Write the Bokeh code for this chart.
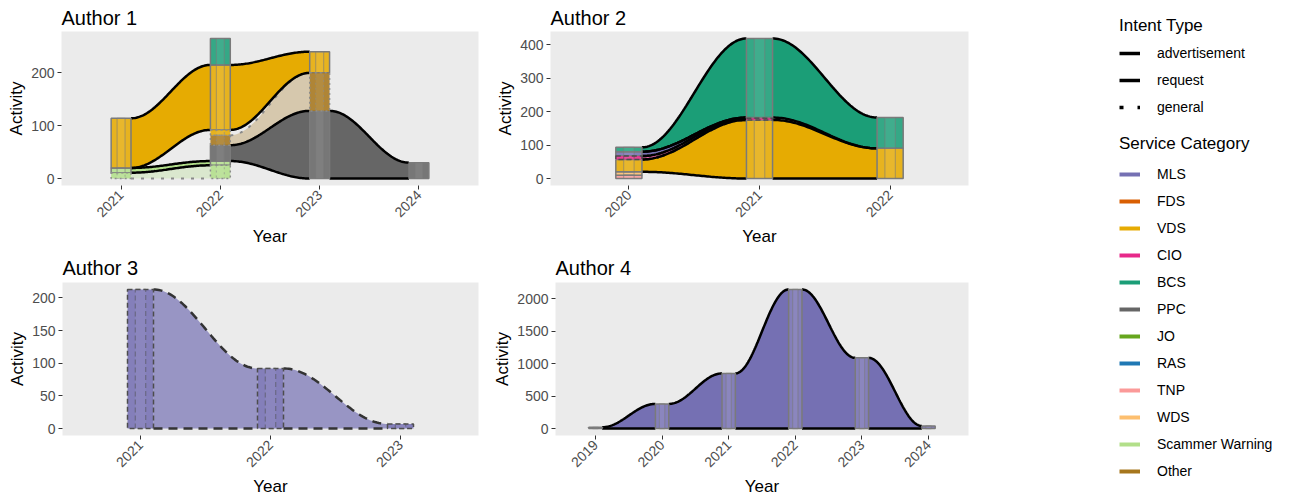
import numpy as np
from math import pi
from bokeh.plotting import figure
from bokeh.layouts import row, column
from bokeh.models import Range1d, FixedTicker, Legend, LegendItem, ColumnDataSource
from bokeh.embed import file_html
from bokeh.resources import INLINE

# ---------------- data ----------------
service_categories = ["MLS", "FDS", "VDS", "CIO", "BCS", "PPC", "JO", "RAS",
                      "TNP", "WDS", "Scammer Warning", "Other"]
service_colors = ["#7570B3", "#D95F02", "#E6AB02", "#E7298A", "#1B9E77", "#666666",
                  "#66A61E", "#1F78B4", "#FB9A99", "#FDBF6F", "#B2DF8A", "#A6761D"]
intent_types = ["advertisement", "request", "general"]

# Author 1 (alluvia stacked bottom -> top; one value per year)
a1_years = [2021, 2022, 2023, 2024]
a1_categories = ["Scammer Warning", "Scammer Warning", "PPC", "Other", "VDS", "VDS", "BCS"]
a1_intents = ["general", "advertisement", "advertisement", "general", "general", "advertisement", "advertisement"]
a1_values = [[11, 25, 0, 0],
             [9, 8, 0, 0],
             [0, 30, 128, 30],
             [0, 19, 72, 0],
             [0, 10, 0, 0],
             [94, 123, 40, 0],
             [0, 50, 0, 0]]
a1_yticks = [0, 100, 200]

# Author 2
a2_years = [2020, 2021, 2022]
a2_categories = ["TNP", "WDS", "VDS", "CIO", "MLS", "BCS"]
a2_intents = ["advertisement", "advertisement", "advertisement", "request", "advertisement", "advertisement"]
a2_values = [[10, 0, 0],
             [10, 0, 0],
             [37, 175, 90],
             [10, 5, 0],
             [13, 2, 0],
             [13, 236, 92]]
a2_yticks = [0, 100, 200, 300, 400]

# Author 3
a3_years = [2021, 2022, 2023]
a3_categories = ["MLS"]
a3_intents = ["request"]
a3_values = [[213, 92, 7]]
a3_yticks = [0, 50, 100, 150, 200]

# Author 4
a4_years = [2019, 2020, 2021, 2022, 2023, 2024]
a4_categories = ["MLS"]
a4_intents = ["advertisement"]
a4_values = [[20, 380, 850, 2145, 1090, 40]]
a4_yticks = [0, 500, 1000, 1500, 2000]

# ---------------- style ----------------
FONT = "Liberation Sans"
SW = 0.2  # stratum width (x units)
STYLE = {
    "advertisement": dict(alpha=1.0, edge="black", edash="solid", ewidth=2.5,
                          box="#7a7a7a", bdash="solid"),
    "request": dict(alpha=0.7, edge="#333333", edash="9 6", ewidth=2.5,
                    box="#4d4d4d", bdash="5 3"),
    "general": dict(alpha=0.3, edge="#8a8a8a", edash="3 7", ewidth=2,
                    box="#8c8c8c", bdash="2 3"),
}


def make_panel(title, years, cats, intents, values, yticks,
               width, height, left, right, top, bottom, standoff):
    vals = np.array(values, dtype=float)
    cum = np.cumsum(vals, axis=0)
    bots = np.vstack([np.zeros(len(years)), cum[:-1]])
    tops = bots + vals
    ymax = tops.max()
    p = figure(width=width, height=height, output_backend="svg", toolbar_location=None,
               x_range=Range1d(years[0] - 0.6, years[-1] + 0.6),
               y_range=Range1d(-0.05 * ymax, 1.05 * ymax),
               min_border_left=left, min_border_right=right,
               min_border_top=top, min_border_bottom=bottom, title=title)

    t = np.linspace(0, 1, 60)
    s = (1 - np.cos(np.pi * t)) / 2

    fx, fy, fc, fa = [], [], [], []
    edges = {k: ([], []) for k in intent_types}
    for i, (c, it) in enumerate(zip(cats, intents)):
        col = service_colors[service_categories.index(c)]
        for j in range(len(years) - 1):
            if vals[i, j] > 0 and vals[i, j + 1] > 0:
                x0 = years[j] + SW / 2
                x1 = years[j + 1] - SW / 2
                xs = x0 + (x1 - x0) * t
                tc = tops[i, j] + (tops[i, j + 1] - tops[i, j]) * s
                bc = bots[i, j] + (bots[i, j + 1] - bots[i, j]) * s
                fx.append(list(np.concatenate([xs, xs[::-1]])))
                fy.append(list(np.concatenate([tc, bc[::-1]])))
                fc.append(col)
                fa.append(STYLE[it]["alpha"])
                edges[it][0].extend([list(xs), list(xs)])
                edges[it][1].extend([list(tc), list(bc)])
    if fx:
        p.patches("xs", "ys", source=ColumnDataSource(dict(xs=fx, ys=fy, c=fc, a=fa)),
                  fill_color="c", fill_alpha="a", line_color=None)
    for it in ["general", "request", "advertisement"]:
        ex, ey = edges[it]
        if ex:
            st = STYLE[it]
            p.multi_line(ex, ey, line_color=st["edge"], line_width=st["ewidth"],
                         line_dash=st["edash"])

    # strata
    for it in intent_types:
        L, R, B, T, C = [], [], [], [], []
        for i, (c, it2) in enumerate(zip(cats, intents)):
            if it2 != it:
                continue
            for j, yr in enumerate(years):
                if vals[i, j] > 0:
                    L.append(yr - SW / 2); R.append(yr + SW / 2)
                    B.append(bots[i, j]); T.append(tops[i, j])
                    C.append(service_colors[service_categories.index(c)])
        if L:
            st = STYLE[it]
            src = ColumnDataSource(dict(l=L, r=R, b=B, t=T, c=C,
                                        il=[x + SW * 0.3 for x in L],
                                        ir=[x - SW * 0.3 for x in R]))
            p.quad(left="l", right="r", bottom="b", top="t", source=src,
                   fill_color="c", fill_alpha=0.88, line_color=st["box"],
                   line_width=1.5, line_dash=st["bdash"])
            p.quad(left="il", right="ir", bottom="b", top="t", source=src,
                   fill_color="white", fill_alpha=0.06, line_color=st["box"],
                   line_alpha=0.5, line_width=1.2, line_dash=st["bdash"])

    p.xaxis.ticker = FixedTicker(ticks=years)
    p.xaxis.major_label_overrides = {yr: str(yr) for yr in years}
    p.yaxis.ticker = FixedTicker(ticks=yticks)
    p.xaxis.axis_label = "Year"
    p.yaxis.axis_label = "Activity"
    p.xaxis.major_label_orientation = pi / 4
    p.background_fill_color = "#EBEBEB"
    p.border_fill_color = "white"
    p.outline_line_color = None
    p.grid.grid_line_color = None
    for ax in p.axis:
        ax.axis_line_color = None
        ax.major_tick_line_color = "#333333"
        ax.major_tick_out = 4
        ax.major_tick_in = 0
        ax.minor_tick_line_color = None
        ax.major_label_text_font = FONT
        ax.major_label_text_font_size = "14px"
        ax.major_label_text_color = "#4D4D4D"
        ax.axis_label_text_font = FONT
        ax.axis_label_text_font_size = "17px"
        ax.axis_label_text_font_style = "normal"
        ax.axis_label_text_color = "black"
        ax.major_label_standoff = 3
        ax.axis_label_standoff = 2
    p.title.text_font = FONT
    p.title.text_font_size = "20px"
    p.title.text_font_style = "normal"
    p.title.text_color = "black"
    p.title.standoff = standoff
    p.title.offset = 0
    return p


p1 = make_panel("Author 1", a1_years, a1_categories, a1_intents, a1_values, a1_yticks,
                490, 250, 61, 12, 31, 65, 6)
p2 = make_panel("Author 2", a2_years, a2_categories, a2_intents, a2_values, a2_yticks,
                490, 250, 60, 12, 31, 65, 6)
p3 = make_panel("Author 3", a3_years, a3_categories, a3_intents, a3_values, a3_yticks,
                490, 248, 62, 12, 32, 62, 7)
p4 = make_panel("Author 4", a4_years, a4_categories, a4_intents, a4_values, a4_yticks,
                490, 248, 60, 12, 32, 62, 7)

# ---------------- legend ----------------
leg = figure(width=311, height=498, output_backend="svg", toolbar_location=None,
             x_range=Range1d(0, 1), y_range=Range1d(0, 1), min_border=0)
leg.axis.visible = False
leg.grid.visible = False
leg.outline_line_color = None
leg.background_fill_color = "white"
leg.border_fill_color = "white"

intent_key_dash = {"advertisement": "solid", "request": "30 6", "general": "4 14"}
items1 = []
for it in intent_types:
    r = leg.line(x=[5, 6], y=[5, 5], line_color="black", line_width=3.5,
                 line_dash=intent_key_dash[it])
    items1.append(LegendItem(label=it, renderers=[r]))
items2 = []
for c, col in zip(service_categories, service_colors):
    r = leg.line(x=[5, 6], y=[5, 5], line_color=col, line_width=4)
    items2.append(LegendItem(label=c, renderers=[r]))


def style_legend(lg, title_standoff):
    lg.title_text_font = FONT
    lg.title_text_font_size = "17px"
    lg.title_text_font_style = "normal"
    lg.title_text_color = "black"
    lg.title_standoff = title_standoff
    lg.label_text_font = FONT
    lg.label_text_font_size = "14px"
    lg.label_text_color = "black"
    lg.glyph_width = 21
    lg.glyph_height = 20
    lg.label_height = 20
    lg.label_standoff = 17
    lg.spacing = 7
    lg.padding = 0
    lg.margin = 0
    lg.border_line_color = None
    lg.background_fill_alpha = 0
    return lg


lg1 = style_legend(Legend(items=items1, title="Intent Type", location=(139, 381)), 7)
lg2 = style_legend(Legend(items=items2, title="Service Category", location=(139, 17)), 10)
leg.add_layout(lg1)
leg.add_layout(lg2)

layout = row(column(row(p1, p2), row(p3, p4)), leg)

with open("out.html", "w") as f:
    f.write(file_html(layout, INLINE))
